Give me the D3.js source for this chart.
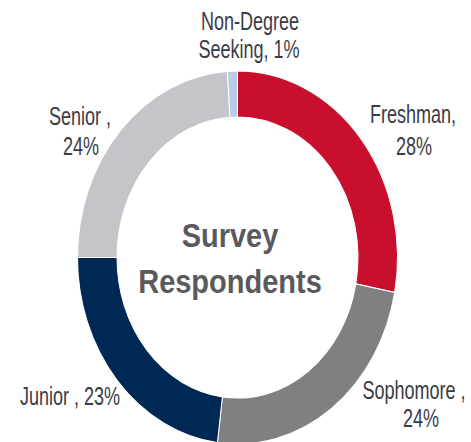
<!DOCTYPE html>
<html>
<head>
<meta charset="utf-8">
<script src="https://cdn.jsdelivr.net/npm/d3@7"></script>
<style>
  body { margin: 0; background: #fff; }
  svg { display: block; }
  .lbl { font-family: "Liberation Sans", Arial, sans-serif; font-size: 22px; fill: #3b3b45; }
  .ttl { font-family: "Liberation Sans", Arial, sans-serif; font-weight: bold; font-size: 29px; fill: #5a5a5e; }
</style>
</head>
<body>
<svg id="chart" width="471" height="442"></svg>
<script>
// survey respondents by class
var categories = ["Freshman", "Sophomore", "Junior", "Senior", "Non-Degree Seeking"];
var values = [28, 24, 23, 24, 1];
var colors = ["#c8102e", "#808080", "#002855", "#c4c5c8", "#b8cce4"];
// how the label text wraps in the original
var labelLines = [
  ["Freshman,", "28%"],
  ["Sophomore ,", "24%"],
  ["Junior , 23%"],
  ["Senior ,", "24%"],
  ["Non-Degree", "Seeking, 1%"]
];
var title = ["Survey", "Respondents"];

var W = 471, H = 442;
var cx = 237.5, cy = 257.5;
var sy = 1.166;            // the picture is stretched vertically
var sx = 0.82;             // narrow font look
var rOut = 160, rIn = 120.5;

// label anchor points, screen px: [x, baseline] per line
var labelPos = [
  [[413, 123], [414, 155]],
  [[414, 399], [421, 427]],
  [[70, 405]],
  [[80, 125], [81, 155]],
  [[250, 30], [249, 58]]
];
var titlePos = [[230, 247], [230, 293]];

var svg = d3.select("#chart");
// undo the stretch for a screen y
function uy(ys) { return cy + (ys - cy) / sy; }

var root = svg.append("g")
  .attr("transform", "translate(0," + cy + ") scale(1," + sy + ") translate(0," + (-cy) + ")");

var pie = d3.pie().sort(null).value(function(d) { return d; });
var arc = d3.arc().innerRadius(rIn).outerRadius(rOut);

root.append("g")
  .attr("transform", "translate(" + cx + "," + cy + ")")
  .selectAll("path")
  .data(pie(values))
  .enter().append("path")
    .attr("d", arc)
    .style("fill", function(d, i) { return colors[i]; })
    .style("stroke", "#fff")
    .style("stroke-width", 1);

var labels = root.append("g");
labelLines.forEach(function(lines, i) {
  lines.forEach(function(t, j) {
    labels.append("text")
      .attr("class", "lbl")
      .attr("text-anchor", "middle")
      .attr("transform", "translate(" + labelPos[i][j][0] + "," + uy(labelPos[i][j][1]) + ") scale(" + sx + ",1)")
      .text(t);
  });
});

title.forEach(function(t, j) {
  root.append("text")
    .attr("class", "ttl")
    .attr("text-anchor", "middle")
    .attr("x", titlePos[j][0])
    .attr("y", uy(titlePos[j][1]))
    .text(t);
});
</script>
</body>
</html>
